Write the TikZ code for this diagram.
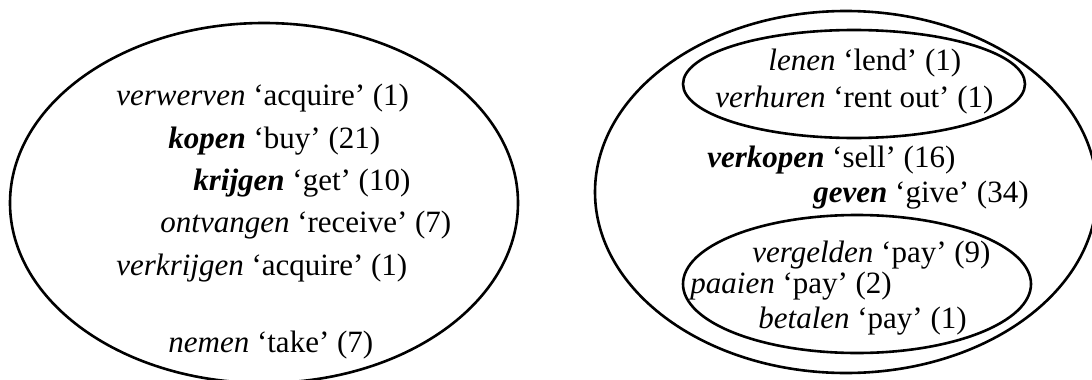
\documentclass[tikz,border=0pt]{standalone}
\usepackage{fontspec}
\setmainfont{Liberation Serif}

\begin{document}
\begin{tikzpicture}[x=0.5pt, y=-0.5pt,
  verb/.style={anchor=base west, inner sep=0pt, font=\fontsize{15.5}{18}\selectfont},
  ring/.style={line width=1.3pt}]

\useasboundingbox (0,0) rectangle (1092,380);
\clip (0,0) rectangle (1092,380);

\coordinate (lc) at (264,203);
\coordinate (rc) at (846,192);
\coordinate (tc) at (854,84);
\coordinate (bc) at (857,284);

% taking verbs
  \draw[ring] (lc) ellipse [x radius=254, y radius=180];

  \node[verb] (verwerven) at (116,105) {\textit{verwerven} ‘acquire’ (1)};
  \node[verb] (kopen) at (168,148) {\textbf{\textit{kopen}} ‘buy’ (21)};
  \node[verb] (krijgen) at (193,190) {\textbf{\textit{krijgen}} ‘get’ (10)};
  \node[verb] (ontvangen) at (160,232) {\textit{ontvangen} ‘receive’ (7)};
  \node[verb] (verkrijgen) at (116,275) {\textit{verkrijgen} ‘acquire’ (1)};
  \node[verb] (nemen) at (168,352) {\textit{nemen} ‘take’ (7)};

% giving verbs
  \draw[ring] (rc) ellipse [x radius=251, y radius=181];

% lending inside
  \draw[ring] (tc) ellipse [x radius=171, y radius=54];

  \node[verb] (lenen) at (768,70) {\textit{lenen} ‘lend’ (1)};
  \node[verb] (verhuren) at (715,107) {\textit{verhuren} ‘rent out’ (1)};

  \node[verb] (verkopen) at (707,167) {\textbf{\textit{verkopen}} ‘sell’ (16)};
  \node[verb] (geven) at (813,202) {\textbf{\textit{geven}} ‘give’ (34)};

% paying inside
  \draw[ring] (bc) ellipse [x radius=174, y radius=69];

  \node[verb] (vergelden) at (752,262) {\textit{vergelden} ‘pay’ (9)};
  \node[verb] (paaien) at (690,293) {\textit{paaien} ‘pay’ (2)};
  \node[verb] (betalen) at (758,328) {\textit{betalen} ‘pay’ (1)};

\end{tikzpicture}
\end{document}
